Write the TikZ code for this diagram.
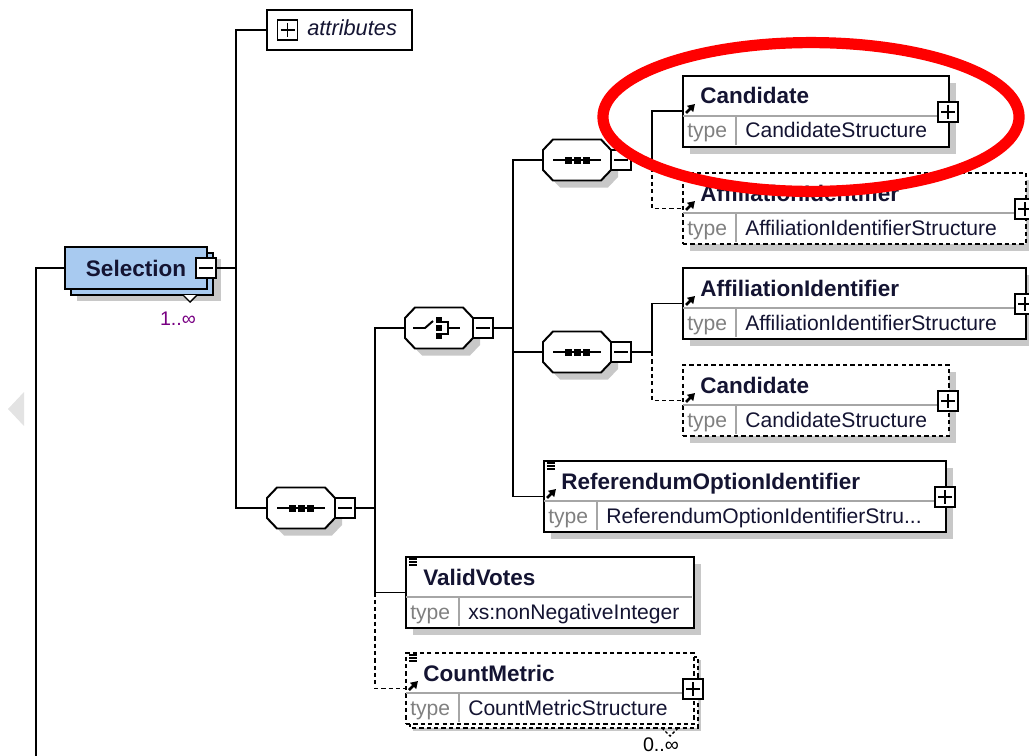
\documentclass[tikz,border=0pt]{standalone}
\usepackage{fontspec}
\setmainfont{Liberation Sans}
\usetikzlibrary{arrows.meta}
\pgfdeclarelayer{bg}
\pgfsetlayers{bg,main}
\newcommand{\pxu}{0.025cm}
\definecolor{selblue}{RGB}{168,202,240}
\definecolor{shadowgray}{RGB}{200,200,200}
\definecolor{occpurple}{RGB}{120,0,130}
\definecolor{namecol}{RGB}{20,20,50}
\tikzset{
    conn/.style={line width=1.4pt},
    optconn/.style={conn, dash pattern=on 3pt off 2.2pt},
    elem/.style={rectangle, draw, line width=1.4pt, fill=white, inner sep=0mm, anchor=north west},
    optelem/.style={elem, dash pattern=on 3pt off 2.2pt},
    divline/.style={gray!70, line width=1pt},
    elname/.style={font=\fontsize{16}{18}\selectfont\bfseries, text=namecol, inner sep=0mm, anchor=base west},
    eltype/.style={font=\fontsize{15}{18}\selectfont, text=namecol, inner sep=0mm, anchor=base west},
    refarrow/.style={line width=1.8pt, -{Triangle[length=5pt,width=6pt]}},
    docline/.style={line width=0.8pt},
    pmbox/.style={rectangle, draw, line width=1.2pt, fill=white, minimum size=20*\pxu, inner sep=0mm},
    plusbox/.style={pmbox, path picture={\draw[line width=1.2pt] (path picture bounding box.center) ++(-7,0) -- ++(14,0) (path picture bounding box.center) ++(0,-7) -- ++(0,14);}},
    minusbox/.style={pmbox, path picture={\draw[line width=1.2pt] (path picture bounding box.center) ++(-7,0) -- ++(14,0);}},
    octonode/.style={rectangle, minimum width=68*\pxu, minimum height=41*\pxu, inner sep=0mm},
    octline/.style={draw, line width=1.4pt, fill=white},
    selbox/.style={rectangle, draw, line width=1.4pt, fill=selblue, minimum width=142*\pxu, minimum height=42*\pxu, inner sep=0mm,
        font=\fontsize{16}{18}\selectfont\bfseries, text=namecol},
    occ/.style={font=\fontsize{14}{16}\selectfont, text=occpurple, inner sep=0mm}
}
% element box: name, style, x, y, width, type column, title, type
\newcommand{\xsdelem}[8]{%
    \begin{pgfonlayer}{bg}\fill[shadowgray] (#3+8,#4+8) rectangle ++(#5,71);\end{pgfonlayer}
    \node[#2, minimum width=#5*\pxu, minimum height=71*\pxu] (#1) at (#3,#4) {};
    \draw[divline] (#3+1,#4+41) -- ++(#5-2,0) (#3+#6,#4+41) -- ++(0,29);
    \node[elname] (#1t) at (#3+18,#4+29) {#7};
    \node[eltype, text=gray] (#1k) at (#3+5,#4+63) {type};
    \node[eltype] (#1v) at (#3+#6+9,#4+63) {#8};
}
\newcommand{\xsdref}[1]{\draw[refarrow] ([shift={(4,38)}]#1.north west) -- ++(9,-9);}
\newcommand{\xsddoc}[1]{\draw[docline] ([shift={(4,3)}]#1.north west) -- ++(8,0) ++(-8,3) -- ++(8,0) ++(-8,3) -- ++(8,0);}
% compositor: name, x, y
\newcommand{\xsdocto}[3]{%
    \fill[shadowgray] (#2+7,#3+7) ++(-34,-10) -- ++(10,-10.5) -- ++(48,0) -- ++(10,10.5) -- ++(0,20) -- ++(-10,10.5) -- ++(-48,0) -- ++(-10,-10.5) -- cycle;
    \node[octonode] (#1) at (#2,#3) {};
    \draw[octline] (#1.center) ++(-34,-10) -- ++(10,-10.5) -- ++(48,0) -- ++(10,10.5) -- ++(0,20) -- ++(-10,10.5) -- ++(-48,0) -- ++(-10,-10.5) -- cycle;
}
\newcommand{\xsdseq}[1]{%
    \draw[line width=1.4pt] (#1.center) ++(-24,0) -- ++(48,0);
    \foreach \k in {-9,0,9} \fill (#1.center) ++(\k,0) +(-3.5,-3.5) rectangle +(3.5,3.5);
}
\newcommand{\xsdchoice}[1]{%
    \draw[line width=1.4pt] (#1.center) ++(-26,0) -- ++(12,0) -- ++(8,-7);
    \foreach \k in {-8,0,8} \fill (#1.center) ++(0,\k) +(-3,-3) rectangle +(3,3);
    \draw[line width=1.2pt] (#1.center) ++(3,-6) -- ++(6,0) -- ++(0,12) -- ++(-6,0) ++(6,-6) -- ++(12,0);
}

\begin{document}
\begin{tikzpicture}[x=0.025cm, y=-0.025cm]
        \useasboundingbox (0,0) rectangle (1029,755);
        \fill[gray!22] (8,409) -- (24,392) -- (24,426) -- cycle;
        \coordinate (j0) at (236,268);
        \coordinate (j1) at (375,508);
        \coordinate (j2) at (513,328);
        \coordinate (j3) at (652,160);
        \coordinate (j4) at (652,352);
        \coordinate (lend) at (36,760);

        \fill[shadowgray] (77,259) rectangle (221,301);
        \draw[line width=1.4pt, fill=selblue] (71,253) rectangle (213,295);
        \draw[line width=1pt, fill=white] (183,295) -- (190,302) -- (197,295);
        \node[selbox] (sel) at (136,268) {Selection};
        \node[minusbox] (selm) at (206,268) {};
        \node[occ] (selocc) at (178,319) {1..∞};

        \node[rectangle, draw, line width=1.4pt, minimum width=145*\pxu, minimum height=40*\pxu] (attr) at (339.5,30) {};
        \node[plusbox] (attrp) at (287.5,30) {};
        \node[eltype, font=\fontsize{15.5}{18}\selectfont\itshape] (attrt) at (307,36) {attributes};

        \xsdocto{seqa}{301}{508} \xsdseq{seqa}
        \node[minusbox] (seqam) at (345,508) {};
        \xsdocto{cho}{439}{328} \xsdchoice{cho}
        \node[minusbox] (chom) at (483,328) {};
        \xsdocto{seqb}{577}{160} \xsdseq{seqb}
        \node[minusbox] (seqbm) at (621,160) {};
        \xsdocto{seqc}{577}{352} \xsdseq{seqc}
        \node[minusbox] (seqcm) at (621,352) {};

        \xsdelem{canda}{elem}{682}{75}{266}{54}{Candidate}{CandidateStructure}
        \xsdelem{affa}{optelem}{682}{172}{343}{54}{AffiliationIdentifier}{AffiliationIdentifierStructure}
        \xsdelem{affb}{elem}{682}{267}{343}{54}{AffiliationIdentifier}{AffiliationIdentifierStructure}
        \xsdelem{candb}{optelem}{682}{364}{266}{54}{Candidate}{CandidateStructure}
        \xsdelem{refopt}{elem}{543}{460}{402}{54}{ReferendumOptionIdentifier}{ReferendumOptionIdentifierStru...}
        \xsdelem{validvotes}{elem}{405}{556}{288}{54}{ValidVotes}{xs:nonNegativeInteger}
        \draw[optconn, fill=white] (410,657) rectangle (698,728);
        \draw[line width=1pt, dash pattern=on 2pt off 1.5pt] (662,728) -- (670,736) -- (678,728);
        \xsdelem{countmetric}{optelem}{405}{652}{288}{54}{CountMetric}{CountMetricStructure}
        \node[occ, text=black] (cmocc) at (661,745) {0..∞};

        \xsdref{canda} \xsdref{affa} \xsdref{affb} \xsdref{candb} \xsdref{refopt} \xsdref{countmetric}
        \xsddoc{refopt} \xsddoc{validvotes} \xsddoc{countmetric}

        \node[plusbox] (candap) at (948,112) {};
        \node[plusbox] (affap) at (1025,209) {};
        \node[plusbox] (affbp) at (1025,304) {};
        \node[plusbox] (candbp) at (948,401) {};
        \node[plusbox] (refoptp) at (945,497) {};
        \node[plusbox] (countmetricp) at (693,689) {};

        \draw[conn] (sel.west) -| (lend);
        \draw[conn] (selm.east) -- (j0) |- (attr.west);
        \draw[conn] (j0) |- (seqa.west);
        \draw[conn] (seqam.east) -- (j1) |- (cho.west);
        \draw[conn] (j1) |- (validvotes.west);
        \draw[optconn] (validvotes.west -| j1) |- (countmetric.west);
        \draw[conn] (chom.east) -- (j2) |- (seqb.west);
        \draw[conn] (j2) |- (seqc.west);
        \draw[conn] (j2) |- (refopt.west);
        \draw[conn] (seqbm.east) -- (j3) |- (canda.west);
        \draw[optconn] (j3) |- (affa.west);
        \draw[conn] (seqcm.east) -- (j4) |- (affb.west);
        \draw[optconn] (j4) |- (candb.west);

        \draw[red, line width=0.28cm] (811,117) ellipse [x radius=5.2cm, y radius=1.86cm];
\end{tikzpicture}
\end{document}
